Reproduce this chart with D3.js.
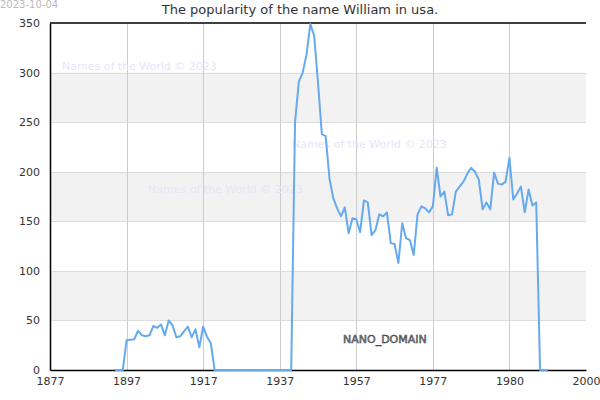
<!DOCTYPE html>
<html>
<head>
<meta charset="utf-8">
<script src="https://cdn.jsdelivr.net/npm/d3@7"></script>
<style>
  body { margin: 0; background: #fff; }
  text { font-family: "DejaVu Sans", sans-serif; }
</style>
</head>
<body>
<script>
// x axis is a run of 141 slots, labels every 20th slot
const xTickLabels = ["1877", "1897", "1917", "1937", "1957", "1977", "1980", "2000"]
const yTicks = [0, 50, 100, 150, 200, 250, 300, 350]

// first slot that has a value
const firstSlot = 17
const popularity = [
    0, 0, 0,
    30, 30.5, 31, 39.6, 35, 34, 35, 44.5, 42.5, 46, 35, 50, 45, 33, 34, 39, 43.7, 33, 41, 23, 43.7, 33.6, 27,
    0, 0, 0, 0, 0, 0, 0, 0, 0, 0, 0, 0, 0, 0, 0, 0, 0, 0, 0, 0, 0,
    250, 291, 300, 318, 349, 337, 290, 238, 236, 193, 173, 163, 155, 164,
    138, 153, 152, 139, 171, 169, 136, 141, 157, 155, 159, 128, 127, 108, 148, 133, 131, 116, 157, 165, 163, 159,
    165, 204, 175, 180, 156, 157, 180, 185, 190, 198, 204, 200, 192, 162, 169, 162, 199, 188, 187, 190, 214, 172, 178, 185, 159, 182, 166, 169,
    0, 0, 0
]

const title = "The popularity of the name William in usa."
const stamp = "2023-10-04"
const watermark = "Names of the World © 2023"

const MARGIN = { TOP: 23, BOTTOM: 30, LEFT: 50, RIGHT: 14 }
const WIDTH = 600 - MARGIN.LEFT - MARGIN.RIGHT
const HEIGHT = 400 - MARGIN.TOP - MARGIN.BOTTOM

const svg = d3.select("body").append("svg")
    .attr("width", 600)
    .attr("height", 400)

const g = svg.append("g")
    .attr("transform", `translate(${MARGIN.LEFT}, ${MARGIN.TOP})`)

const x = d3.scaleLinear()
    .domain([0, (xTickLabels.length - 1) * 20])
    .range([0, WIDTH])

const y = d3.scaleLinear()
    .domain([0, 350])
    .range([HEIGHT, 0])

// alternate grey bands
yTicks.slice(0, -1).forEach((t, i) => {
    if (i % 2 === 1) {
        g.append("rect")
            .attr("x", 0)
            .attr("y", y(t + 50))
            .attr("width", WIDTH)
            .attr("height", y(t) - y(t + 50))
            .attr("fill", "#f2f2f2")
    }
})

// horizontal grid
g.selectAll(".hgrid")
    .data(yTicks.slice(1, -1))
    .enter().append("line")
        .attr("x1", 0)
        .attr("x2", WIDTH)
        .attr("y1", d => Math.round(y(d)) + 0.5)
        .attr("y2", d => Math.round(y(d)) + 0.5)
        .attr("stroke", "#dddddd")

// vertical grid
const xTickVals = xTickLabels.map((d, i) => i * 20)
g.selectAll(".vgrid")
    .data(xTickVals.slice(1, -1))
    .enter().append("line")
        .attr("x1", d => Math.round(x(d)) + 0.5)
        .attr("x2", d => Math.round(x(d)) + 0.5)
        .attr("y1", 0)
        .attr("y2", HEIGHT)
        .attr("stroke", "#cccccc")

// watermarks
const marks = [[12, 47], [242, 125], [98, 170]]
marks.forEach(m => {
    g.append("text")
        .attr("x", m[0])
        .attr("y", m[1])
        .attr("font-size", 11)
        .attr("fill", "#e6e6f8")
        .text(watermark)
})

// axes
const xAxisCall = d3.axisBottom(x)
    .tickValues(xTickVals)
    .tickFormat((d, i) => xTickLabels[i])
    .tickSize(0)
    .tickPadding(7)
const xAxisGroup = g.append("g")
    .attr("transform", `translate(0, ${HEIGHT})`)
    .call(xAxisCall)
xAxisGroup.select(".domain").attr("stroke", "#000").attr("stroke-width", 1.5)
xAxisGroup.selectAll("text").attr("font-size", 11).attr("fill", "#333")
    .attr("font-family", "DejaVu Sans")

const yAxisCall = d3.axisLeft(y)
    .tickValues(yTicks)
    .tickSize(0)
    .tickPadding(10)
const yAxisGroup = g.append("g").call(yAxisCall)
yAxisGroup.select(".domain").attr("stroke", "#000").attr("stroke-width", 1.5)
yAxisGroup.selectAll("text").attr("font-size", 11).attr("fill", "#333")
    .attr("font-family", "DejaVu Sans")

// top border
g.append("line")
    .attr("x1", 0)
    .attr("x2", WIDTH)
    .attr("y1", 0)
    .attr("y2", 0)
    .attr("stroke", "#000")
    .attr("stroke-width", 1.5)

// the line
const line = d3.line()
    .x((d, i) => x(firstSlot + i))
    .y(d => y(d))

g.append("path")
    .datum(popularity)
    .attr("d", line)
    .attr("fill", "none")
    .attr("stroke", "#66aaee")
    .attr("stroke-width", 2)
    .attr("stroke-linejoin", "round")

// NANO_DOMAIN tag
g.append("text")
    .attr("x", 293)
    .attr("y", 320)
    .attr("font-size", 11)
    .attr("fill", "#999")
    .attr("stroke", "#333")
    .attr("stroke-width", 0.5)
    .text("NANO_DOMAIN")

svg.append("text")
    .attr("x", 300)
    .attr("y", 14)
    .attr("text-anchor", "middle")
    .attr("font-size", 13)
    .attr("fill", "#333")
    .text(title)

svg.append("text")
    .attr("x", 0)
    .attr("y", 8)
    .attr("font-size", 10)
    .attr("fill", "#bbb")
    .text(stamp)
</script>
</body>
</html>
